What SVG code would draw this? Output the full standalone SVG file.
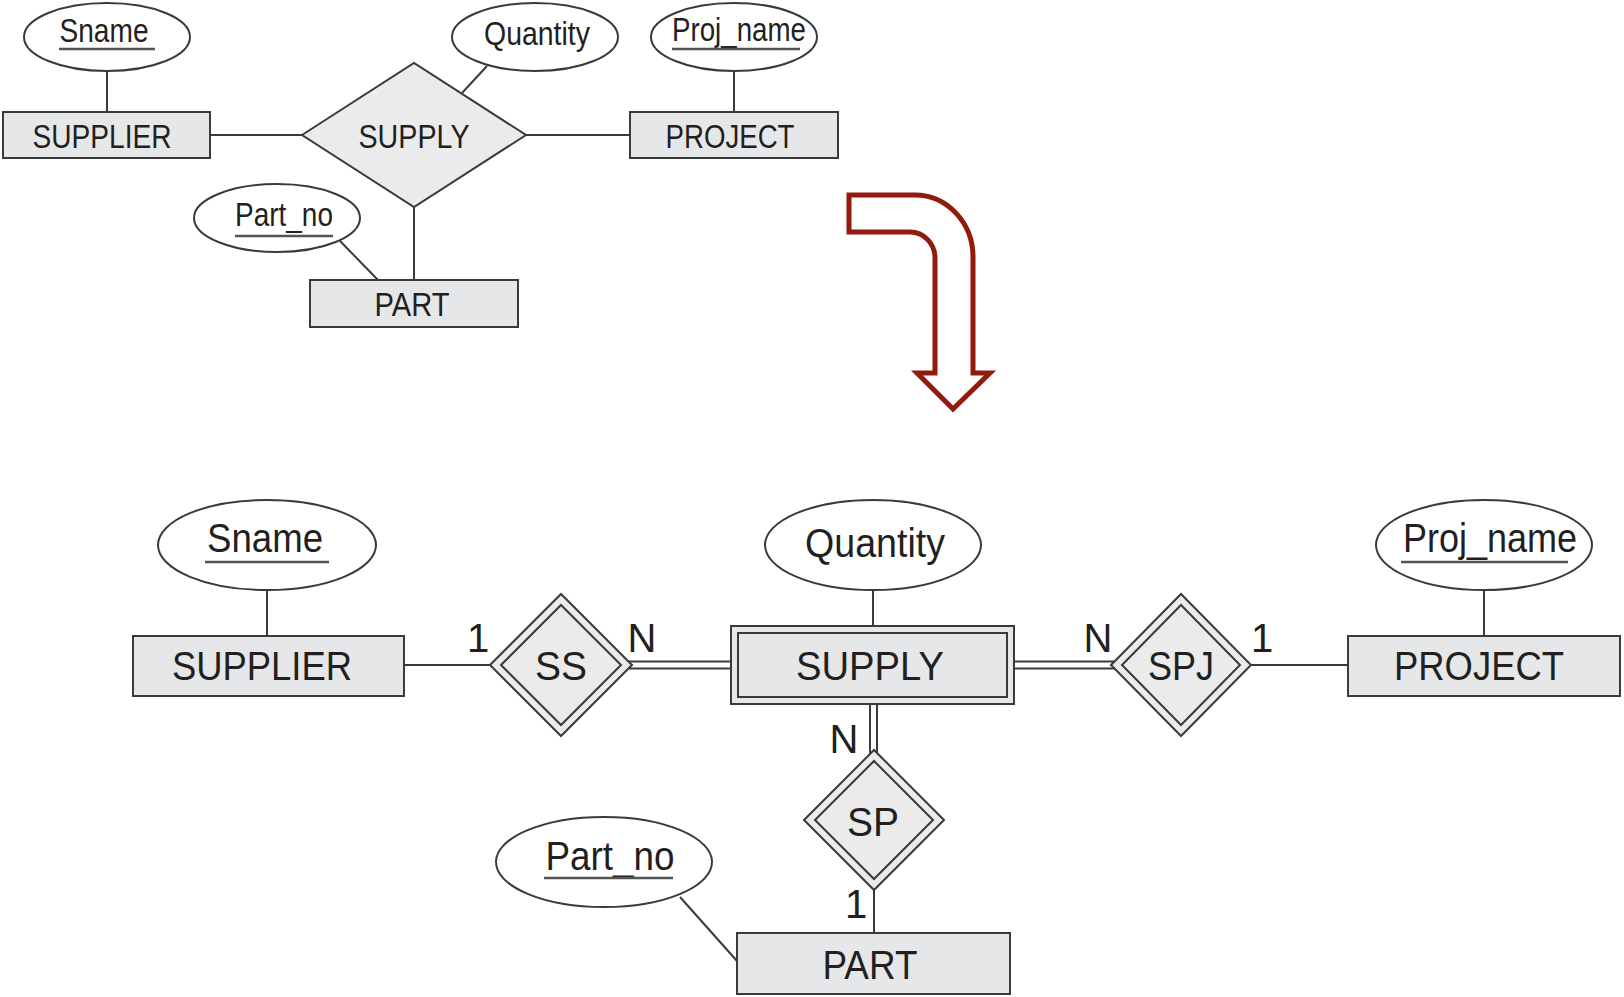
<svg xmlns="http://www.w3.org/2000/svg" width="1624" height="997" viewBox="0 0 1624 997">
<style>
.ent{fill:#e6e7e8;stroke:#3a3a3a;stroke-width:2}
.rel{fill:#ebebec;stroke:#3a3a3a;stroke-width:2}
.att{fill:#ffffff;stroke:#3a3a3a;stroke-width:2}
.ln{stroke:#3a3a3a;stroke-width:2;fill:none}
.ul{stroke:#555555;stroke-width:2.5}
.t{font-family:"Liberation Sans",Arial,sans-serif;fill:#231f20;text-anchor:middle}
.s{font-size:33px}
.b{font-size:40px}
</style>
<rect width="1624" height="997" fill="#ffffff"/>

<g id="connectors">
  <!-- top -->
  <line class="ln" x1="107" y1="70" x2="107" y2="112"/>
  <line class="ln" x1="210" y1="135" x2="302" y2="135"/>
  <line class="ln" x1="526" y1="135" x2="630" y2="135"/>
  <line class="ln" x1="734" y1="70" x2="734" y2="112"/>
  <line class="ln" x1="487" y1="66" x2="462" y2="93"/>
  <line class="ln" x1="414" y1="207" x2="414" y2="280"/>
  <line class="ln" x1="340" y1="241" x2="378" y2="280"/>
  <!-- bottom -->
  <line class="ln" x1="267" y1="590" x2="267" y2="636"/>
  <line class="ln" x1="404" y1="665" x2="490" y2="665"/>
  <line class="ln" x1="629" y1="661.5" x2="731" y2="661.5"/>
  <line class="ln" x1="629" y1="668.5" x2="731" y2="668.5"/>
  <line class="ln" x1="873" y1="590" x2="873" y2="626"/>
  <line class="ln" x1="1014" y1="661.5" x2="1114" y2="661.5"/>
  <line class="ln" x1="1014" y1="668.5" x2="1114" y2="668.5"/>
  <line class="ln" x1="1251" y1="665" x2="1348" y2="665"/>
  <line class="ln" x1="1484" y1="590" x2="1484" y2="636"/>
  <line class="ln" x1="870" y1="704" x2="870" y2="753"/>
  <line class="ln" x1="877" y1="704" x2="877" y2="753"/>
  <line class="ln" x1="874" y1="890" x2="874" y2="933"/>
  <line class="ln" x1="680" y1="897" x2="737" y2="961"/>
</g>

<!-- top diagram -->
<g id="top-sname">
  <ellipse class="att" cx="107" cy="37" rx="83" ry="34"/>
  <text class="t s" x="104" y="42" textLength="89" lengthAdjust="spacingAndGlyphs">Sname</text>
  <line class="ul" x1="59" y1="49" x2="155" y2="49"/>
</g>
<g id="top-supplier">
  <rect class="ent" x="3" y="112" width="207" height="46"/>
  <text class="t s" x="102" y="148" textLength="139" lengthAdjust="spacingAndGlyphs">SUPPLIER</text>
</g>
<g id="top-supply">
  <polygon class="rel" points="302,135 414,63 526,135 414,207"/>
  <text class="t s" x="414" y="148" textLength="111" lengthAdjust="spacingAndGlyphs">SUPPLY</text>
</g>
<g id="top-quantity">
  <ellipse class="att" cx="535" cy="37" rx="83" ry="34"/>
  <text class="t s" x="537" y="45" textLength="106" lengthAdjust="spacingAndGlyphs">Quantity</text>
</g>
<g id="top-projname">
  <ellipse class="att" cx="734" cy="37" rx="83" ry="34"/>
  <text class="t s" x="739" y="41" textLength="134" lengthAdjust="spacingAndGlyphs">Proj_name</text>
  <line class="ul" x1="672" y1="49" x2="800" y2="49"/>
</g>
<g id="top-project">
  <rect class="ent" x="630" y="112" width="208" height="46"/>
  <text class="t s" x="730" y="148" textLength="129" lengthAdjust="spacingAndGlyphs">PROJECT</text>
</g>
<g id="top-partno">
  <ellipse class="att" cx="277" cy="218" rx="83" ry="34"/>
  <text class="t s" x="284" y="226" textLength="98" lengthAdjust="spacingAndGlyphs">Part_no</text>
  <line class="ul" x1="235" y1="236" x2="333" y2="236"/>
</g>
<g id="top-part">
  <rect class="ent" x="310" y="280" width="208" height="47"/>
  <text class="t s" x="412" y="316" textLength="75" lengthAdjust="spacingAndGlyphs">PART</text>
</g>

<!-- transformation arrow -->
<g id="arrow">
  <path d="M 849 195 L 915 195 A 58 62 0 0 1 973 257 L 973 373 L 990 373 L 953 409 L 917 373 L 935 373 L 935 258 A 25 26 0 0 0 910 232 L 849 232 Z" fill="#ffffff" stroke="#931a0c" stroke-width="5" stroke-linejoin="miter"/>
</g>

<!-- bottom diagram -->
<g id="sname">
  <ellipse class="att" cx="267" cy="545" rx="109" ry="45"/>
  <text class="t b" x="265" y="552" textLength="116" lengthAdjust="spacingAndGlyphs">Sname</text>
  <line class="ul" x1="205" y1="562" x2="329" y2="562"/>
</g>
<g id="supplier">
  <rect class="ent" x="133" y="636" width="271" height="60"/>
  <text class="t b" x="262" y="680" textLength="180" lengthAdjust="spacingAndGlyphs">SUPPLIER</text>
</g>
<g id="ss">
  <polygon class="rel" points="490,665 561,594 632,665 561,736"/>
  <polygon class="rel" points="501,665 561,605 621,665 561,725"/>
  <text class="t b" x="561" y="680" textLength="52" lengthAdjust="spacingAndGlyphs">SS</text>
</g>
<g id="supply">
  <rect class="ent" x="731" y="626" width="283" height="78"/>
  <rect class="ent" x="738" y="633" width="269" height="64"/>
  <text class="t b" x="870" y="680" textLength="148" lengthAdjust="spacingAndGlyphs">SUPPLY</text>
</g>
<g id="quantity">
  <ellipse class="att" cx="873" cy="545" rx="108" ry="45"/>
  <text class="t b" x="875" y="557" textLength="140" lengthAdjust="spacingAndGlyphs">Quantity</text>
</g>
<g id="spj">
  <polygon class="rel" points="1111,665 1181,594 1251,665 1181,736"/>
  <polygon class="rel" points="1122,665 1181,605 1240,665 1181,725"/>
  <text class="t b" x="1181" y="680" textLength="66" lengthAdjust="spacingAndGlyphs">SPJ</text>
</g>
<g id="project">
  <rect class="ent" x="1348" y="636" width="272" height="60"/>
  <text class="t b" x="1479" y="680" textLength="170" lengthAdjust="spacingAndGlyphs">PROJECT</text>
</g>
<g id="projname">
  <ellipse class="att" cx="1484" cy="545" rx="108" ry="45"/>
  <text class="t b" x="1490" y="552" textLength="174" lengthAdjust="spacingAndGlyphs">Proj_name</text>
  <line class="ul" x1="1401" y1="562" x2="1568" y2="562"/>
</g>
<g id="sp">
  <polygon class="rel" points="804,820 874,750 944,820 874,890"/>
  <polygon class="rel" points="815,820 874,761 933,820 874,879"/>
  <text class="t b" x="873" y="836" textLength="52" lengthAdjust="spacingAndGlyphs">SP</text>
</g>
<g id="partno">
  <ellipse class="att" cx="604" cy="862" rx="108" ry="45"/>
  <text class="t b" x="610" y="870" textLength="129" lengthAdjust="spacingAndGlyphs">Part_no</text>
  <line class="ul" x1="544" y1="878" x2="673" y2="878"/>
</g>
<g id="part">
  <rect class="ent" x="737" y="933" width="273" height="61"/>
  <text class="t b" x="870" y="979" textLength="95" lengthAdjust="spacingAndGlyphs">PART</text>
</g>

<g id="labels">
  <text class="t b" x="478" y="652">1</text>
  <text class="t b" x="642" y="652">N</text>
  <text class="t b" x="1098" y="652">N</text>
  <text class="t b" x="1262" y="652">1</text>
  <text class="t b" x="844" y="753">N</text>
  <text class="t b" x="856" y="918">1</text>
</g>
</svg>
